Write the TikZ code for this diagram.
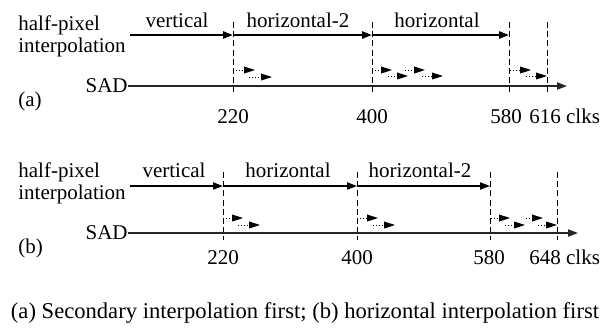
\documentclass[tikz,border=0pt]{standalone}
\usepackage{fontspec}
\setmainfont{Liberation Serif}
\usetikzlibrary{arrows.meta, positioning}

\begin{document}
\begin{tikzpicture}[
        x=0.5pt, y=-0.5pt,
        lbl/.style={font=\fontsize{10.5}{12}\selectfont, inner sep=0pt},
        phase/.style={-{Triangle[length=5pt, width=3.6pt]}, line width=1pt},
        phaseb/.style={-{Triangle[length=5pt, width=3.6pt]}, line width=0.7pt},
        axis/.style={-{Triangle[length=5pt, width=3.6pt]}, line width=0.7pt, black!85},
        tick/.style={dash pattern=on 3pt off 1.6pt, line width=0.5pt},
        sadstep/.style={densely dotted, line width=0.5pt, -{Triangle[length=5.5pt, width=3.4pt]}}
    ]
        \useasboundingbox (0,0) rectangle (613,329);

        % ---- (a) ----
        \node[lbl, anchor=base west] (hpa) at (18,30.5) {half-pixel};
        \node[lbl, anchor=base west] (ipa) at (18,52) {interpolation};
        \node[lbl, anchor=east] (sada) at (128,86) {SAD};
        \node[lbl, anchor=base west] (taga) at (18,106) {(a)};

        \foreach \n/\x in {220/233, 400/372, 580/509, 616/547} {
            \coordinate (at\n) at (\x,22);
            \coordinate (ab\n) at (\x,93);
            \draw[tick] (at\n) -- (ab\n);
        }

        \coordinate (ap0) at (130,35);
        \coordinate (ap220) at (233,35);
        \coordinate (ap400) at (372,35);
        \coordinate (ap580) at (509,35);
        \draw[phase] (ap0) -- (ap220);
        \draw[phase] (ap220) -- (ap400);
        \draw[phase] (ap400) -- (ap580);
        \node[lbl, anchor=base] (va) at (177,27) {vertical};
        \node[lbl, anchor=base] (h2a) at (298,27) {horizontal-2};
        \node[lbl, anchor=base] (ha) at (437,27) {horizontal};

        \coordinate (aend) at (567,86);
        \draw[axis] (sada.east) -- (aend);

        \foreach \s/\e/\y in {233/255/70, 249/272/77,
                              372/392/70, 388/408/76, 405/425/70, 422/443/76,
                              510/531/70, 526/547/76} {
            \coordinate (p) at (\s,\y);
            \coordinate (q) at (\e,\y);
            \draw[sadstep] (p) -- (q);
        }

        \node[lbl, anchor=base] (c220a) at (233,123) {220};
        \node[lbl, anchor=base] (c400a) at (372,123) {400};
        \node[lbl, anchor=base] (c580a) at (506,123) {580};
        \node[lbl, anchor=base west] (c616a) at (529,123) {616 clks};

        % ---- (b) ----
        \node[lbl, anchor=base west] (hpb) at (18,177) {half-pixel};
        \node[lbl, anchor=base west] (ipb) at (18,199) {interpolation};
        \node[lbl, anchor=east] (sadb) at (128,233) {SAD};
        \node[lbl, anchor=base west] (tagb) at (18,253) {(b)};

        \foreach \n/\x in {220/223, 400/357, 580/490, 648/557} {
            \coordinate (bt\n) at (\x,172);
            \coordinate (bb\n) at (\x,240);
            \draw[tick] (bt\n) -- (bb\n);
        }

        \coordinate (bp0) at (130,186);
        \coordinate (bp220) at (223,186);
        \coordinate (bp400) at (357,186);
        \coordinate (bp580) at (490,186);
        \draw[phaseb] (bp0) -- (bp220);
        \draw[phaseb] (bp220) -- (bp400);
        \draw[phaseb] (bp400) -- (bp580);
        \node[lbl, anchor=base] (vb) at (174,177) {vertical};
        \node[lbl, anchor=base] (hb) at (288,177) {horizontal};
        \node[lbl, anchor=base] (h2b) at (420,177) {horizontal-2};

        \coordinate (bend) at (578,233);
        \draw[axis] (sadb.east) -- (bend);

        \foreach \s/\e/\y in {223/243/218, 238/260/225,
                              357/378/218, 373/395/225,
                              491/510/218, 505/525/225, 526/543/218, 538/557/225} {
            \coordinate (p) at (\s,\y);
            \coordinate (q) at (\e,\y);
            \draw[sadstep] (p) -- (q);
        }

        \node[lbl, anchor=base] (c220b) at (223,264) {220};
        \node[lbl, anchor=base] (c400b) at (357,264) {400};
        \node[lbl, anchor=base] (c580b) at (489,264) {580};
        \node[lbl, anchor=base west] (c648b) at (529,264) {648 clks};

        % caption
        \node[lbl, font=\fontsize{11.3}{13}\selectfont, anchor=base] (cap) at (305,318)
            {(a) Secondary interpolation first; (b) horizontal interpolation first};
    \end{tikzpicture}
\end{document}
